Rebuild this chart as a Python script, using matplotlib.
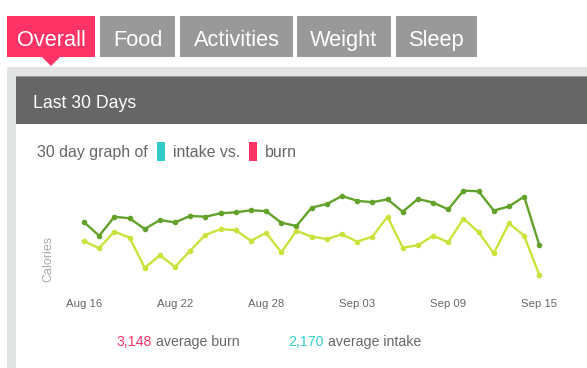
import matplotlib
matplotlib.use("Agg")
import matplotlib.pyplot as plt
from matplotlib.patches import Rectangle, Polygon
import numpy as np

plt.rcParams['font.family'] = ['Liberation Sans', 'DejaVu Sans']

# data: daily calories, Aug 16 .. Sep 15
days = np.arange(31)
burn = [2800, 2340, 2980, 2930, 2570, 2870, 2790, 3010, 2980, 3100, 3130,
        3200, 3170, 2780, 2670, 3290, 3410, 3680, 3520, 3470, 3570, 3150,
        3580, 3460, 3230, 3860, 3840, 3190, 3330, 3660, 2030]
intake = [2160, 1920, 2480, 2280, 1260, 1680, 1290, 1840, 2370, 2560, 2530,
          2170, 2440, 1780, 2510, 2310, 2230, 2390, 2140, 2310, 2980, 1940,
          2020, 2340, 2120, 2920, 2460, 1750, 2760, 2340, 1020]
tick_days = [0, 6, 12, 18, 24, 30]
tick_labels = ['Aug 16', 'Aug 22', 'Aug 28', 'Sep 03', 'Sep 09', 'Sep 15']
tabs = ['Overall', 'Food', 'Activities', 'Weight', 'Sleep']
tab_x = [(7, 95), (100, 175), (180, 293), (297, 391), (396, 477)]
avg_burn = '3,148'
avg_intake = '2,170'

pink = '#ff3366'
cyan = '#33cccc'
textgray = '#666666'
dark_green = '#62a22b'
light_green = '#cce23c'

W, H = 587, 368
fig = plt.figure(figsize=(W / 100, H / 100), dpi=100)
fig.patch.set_facecolor('white')

# page layer in pixel coordinates
bg = fig.add_axes([0, 0, 1, 1])
bg.set_xlim(0, W)
bg.set_ylim(H, 0)
bg.axis('off')

for i, (name, (x0, x1)) in enumerate(zip(tabs, tab_x)):
    col = pink if i == 0 else '#999999'
    bg.add_patch(Rectangle((x0, 16), x1 - x0, 41, color=col, lw=0))
    bg.text((x0 + x1) / 2, 46, name, color='white', fontsize=15.7,
            ha='center', va='baseline')
bg.add_patch(Polygon([(42, 57), (60, 57), (51, 66)], color=pink, lw=0))

# panel
bg.add_patch(Rectangle((7, 67), W - 7, H - 67, color='#e2e4e3', lw=0))
bg.add_patch(Rectangle((16, 76), W - 16, 48, color='#666666', lw=0))
bg.add_patch(Rectangle((16, 76), W - 16, 1, color='#9a9a9a', lw=0))
bg.add_patch(Rectangle((16, 124), W - 16, H - 124, color='white', lw=0))
bg.text(33, 108, 'Last 30 Days', color='white', fontsize=12.7, va='baseline')

# legend line
bg.text(37, 157, '30 day graph of', color=textgray, fontsize=11.4, va='baseline')
bg.add_patch(Rectangle((157, 142), 8, 19, color=cyan, lw=0))
bg.text(173, 157, 'intake vs.', color=textgray, fontsize=11.4, va='baseline')
bg.add_patch(Rectangle((249, 142), 8, 19, color=pink, lw=0))
bg.text(265, 157, 'burn', color=textgray, fontsize=11.4, va='baseline')

bg.text(48, 259, 'Calories', color='#aaaaaa', fontsize=9, rotation=90,
        ha='center', va='center')

# averages
bg.text(117, 346, avg_burn, color=pink, fontsize=10.2, va='baseline')
bg.text(156, 346, 'average burn', color=textgray, fontsize=10.2, va='baseline')
bg.text(288, 346, avg_intake, color=cyan, fontsize=10.2, va='baseline')
bg.text(328, 346, 'average intake', color=textgray, fontsize=10.2, va='baseline')

# chart
ax = fig.add_axes([84 / W, 1 - 293.3 / H, 455.3 / W, (293.3 - 171.7) / H])
ax.patch.set_alpha(0)
ax.plot(days, burn, color=dark_green, lw=1.7, marker='o', ms=3, clip_on=False)
ax.plot(days, intake, color=light_green, lw=1.7, marker='o', ms=3, clip_on=False)
ax.set_xlim(0, 30)
ax.set_ylim(400, 4500)
ax.set_xticks(tick_days)
ax.set_xticklabels(tick_labels, fontsize=8.2, color=textgray)
ax.tick_params(axis='x', length=0, pad=4)
ax.set_yticks([])
for s in ax.spines.values():
    s.set_visible(False)

fig.savefig('out.png', dpi=100)
